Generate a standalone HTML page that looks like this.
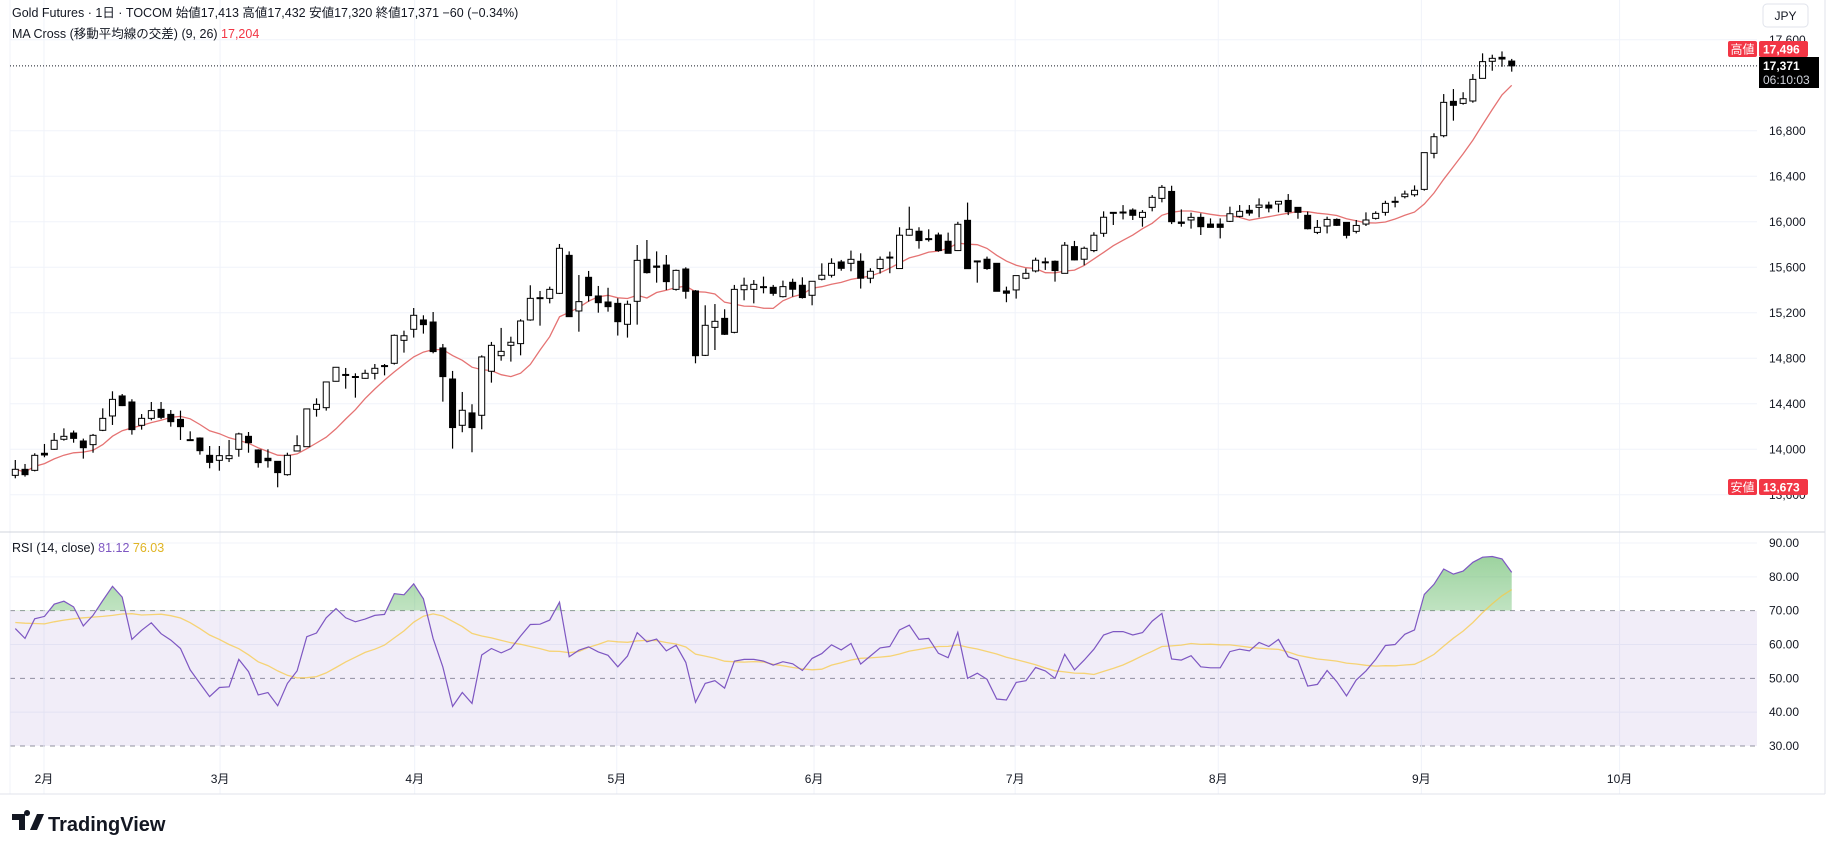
<!DOCTYPE html>
<html><head><meta charset="utf-8">
<style>
html,body{margin:0;padding:0;background:#fff;}
svg{display:block;font-family:"Liberation Sans","Noto Sans CJK JP",sans-serif;}
</style></head>
<body>
<svg id="chart" width="1831" height="845" viewBox="0 0 1831 845" xmlns="http://www.w3.org/2000/svg">
<defs>
<linearGradient id="obGrad" x1="0" y1="0" x2="0" y2="1">
<stop offset="0" stop-color="#4caf50" stop-opacity="0.55"/>
<stop offset="1" stop-color="#4caf50" stop-opacity="0"/>
</linearGradient>
<clipPath id="above70"><rect x="0" y="530" width="1757" height="81"/></clipPath>
</defs>
<g id="grid"></g>
<rect x="10" y="611" width="1747" height="135" fill="#7e57c2" fill-opacity="0.11"/>
<g id="rsiLayer"></g>
<g id="priceLayer"></g>
<g id="axes"></g>
<line x1="0" y1="532" x2="1825" y2="532" stroke="#d1d4dc" stroke-width="1"/>
<line x1="0" y1="794" x2="1825" y2="794" stroke="#e0e3eb"/>
<line x1="1825" y1="0" x2="1825" y2="794" stroke="#e0e3eb"/>
<text x="12" y="17" font-size="12.5" fill="#131722">Gold Futures · 1日 · TOCOM  始値17,413  高値17,432  安値17,320  終値17,371  −60 (−0.34%)</text>
<text x="12" y="38" font-size="12.5" fill="#131722">MA Cross (移動平均線の交差) (9, 26)  <tspan fill="#f23645">17,204</tspan></text>
<text x="12" y="552" font-size="12.5" fill="#131722">RSI (14, close)  <tspan fill="#7e57c2">81.12</tspan>  <tspan fill="#e0b422">76.03</tspan></text>
<rect x="1763" y="4" width="45" height="23" rx="4" fill="#fff" stroke="#e0e3eb"/>
<text x="1785.5" y="20" font-size="12" text-anchor="middle" fill="#131722">JPY</text>
<g>
<path d="M12 814 h13 v16 h-6 v-10 h-7z M27 816 a3 3 0 1 1 0.1 0z M30 830 l7 -16 h7 l-7 16z" fill="#131722"/>
<text x="48" y="831" font-size="20" font-weight="bold" fill="#131722">TradingView</text>
</g>
</svg>
<script>
const opens=[13771,13824,13815,13965,14000,14088,14143,14073,14041,14167,14293,14469,14416,14211,14272,14351,14307,14263,14082,14099,13947,13903,13918,14000,14114,13994,13921,13894,13777,13985,14023,14351,14366,14598,14653,14636,14624,14668,14730,14756,14958,15055,15137,15119,14891,14618,14211,14320,14299,14686,14823,14914,14929,15137,15333,15327,15371,15705,15216,15512,15348,15295,15283,15099,15301,15670,15611,15620,15406,15585,15392,14826,15072,15151,15028,15403,15406,15430,15424,15342,15468,15442,15354,15495,15530,15647,15635,15653,15504,15589,15688,15589,15882,15917,15849,15884,15829,15747,16013,15656,15671,15635,15392,15401,15504,15568,15644,15653,15547,15782,15671,15747,15899,16075,16080,16103,16039,16127,16206,16267,15998,16016,16039,15980,15980,16004,16048,16101,16127,16147,16156,16188,16127,16057,15907,15963,16021,15995,15916,15980,16030,16083,16177,16221,16238,16285,16602,16757,17059,17041,17062,17261,17411,17446,17413];
const highs=[13906,13871,13965,14047,14143,14184,14165,14094,14135,14360,14510,14486,14440,14310,14416,14416,14345,14340,14158,14105,14029,14029,14082,14146,14152,14000,14000,13894,13970,14123,14351,14448,14589,14724,14715,14668,14700,14750,14750,15010,15043,15242,15178,15207,14926,14689,14504,14396,14826,14944,15067,14990,15143,15442,15392,15430,15805,15740,15532,15568,15436,15420,15327,15307,15796,15840,15740,15708,15580,15600,15400,15266,15277,15231,15445,15509,15488,15518,15445,15483,15500,15512,15477,15635,15679,15665,15747,15723,15592,15695,15738,15952,16133,15952,15934,15905,15905,16000,16169,15660,15694,15635,15430,15527,15590,15685,15685,15660,15822,15832,15782,15908,16092,16083,16147,16118,16103,16235,16323,16317,16109,16080,16074,16030,16030,16133,16147,16147,16206,16177,16180,16244,16127,16089,16016,16045,16030,15995,16016,16083,16092,16185,16221,16274,16320,16608,16778,17123,17167,17139,17299,17481,17469,17498,17432];
const lows=[13745,13760,13806,13930,13995,14076,14058,13918,13970,14160,14214,14380,14129,14173,14255,14265,14199,14082,14080,13953,13833,13812,13888,13935,13970,13839,13839,13666,13768,13983,14020,14287,14340,14595,14533,14454,14620,14615,14650,14745,14850,14982,15017,14844,14419,14006,14150,13974,14176,14586,14779,14771,14826,15130,15087,15283,15365,15166,15034,15298,15201,15210,15000,14982,15096,15545,15465,15400,15395,15324,14756,14820,14873,15005,15020,15310,15283,15371,15350,15335,15342,15325,15266,15485,15510,15570,15565,15413,15460,15545,15548,15585,15878,15764,15826,15737,15723,15743,15588,15465,15578,15389,15293,15325,15495,15555,15577,15474,15545,15660,15618,15733,15868,15972,16021,16016,15957,16092,16171,15980,15957,15940,15884,15950,15854,15998,16039,16054,16039,16083,16083,16059,16027,15933,15892,15898,15963,15854,15898,15963,16020,16054,16127,16206,16221,16274,16558,16743,16889,17030,17047,17261,17328,17363,17320];
const closes=[13824,13777,13947,13950,14079,14114,14096,14014,14123,14272,14439,14384,14173,14272,14340,14281,14243,14199,14085,13988,13885,13944,13944,14135,14058,13883,13900,13795,13947,14032,14355,14395,14592,14721,14658,14640,14668,14712,14736,15002,14998,15178,15096,14859,14639,14191,14343,14191,14812,14914,14861,14941,15128,15327,15330,15406,15767,15166,15298,15351,15289,15254,15122,15275,15661,15553,15600,15474,15573,15389,14823,15090,15125,15011,15406,15442,15450,15428,15371,15430,15407,15334,15477,15530,15635,15591,15670,15504,15565,15670,15690,15882,15934,15835,15852,15747,15723,15978,15588,15652,15589,15389,15372,15527,15547,15662,15648,15571,15794,15665,15767,15882,16040,16083,16086,16057,16083,16215,16303,16001,15986,16039,15957,15951,15951,16071,16092,16077,16147,16121,16180,16089,16083,15939,15951,16021,15969,15881,15968,16016,16074,16162,16180,16244,16277,16608,16748,17050,17024,17082,17252,17408,17437,17431,17371];
const rsiValues=[64.7,61.8,67.6,68.3,71.9,72.8,71.1,65.5,68.6,73.0,77.2,74.0,61.5,64.2,66.4,63.2,61.3,58.8,52.5,48.5,44.6,47.3,47.5,55.6,52.0,45.1,45.8,41.9,48.5,52.2,62.3,63.4,67.9,70.6,67.9,66.7,67.5,68.6,68.9,75.0,74.7,77.9,73.5,61.8,53.4,41.7,45.8,42.6,56.9,58.8,57.5,58.8,62.5,65.9,66.0,67.2,72.5,56.4,58.3,59.3,57.8,56.8,53.4,56.6,63.5,60.8,61.6,58.1,59.8,54.7,42.9,48.5,49.3,47.1,55.1,55.6,55.6,55.1,53.9,54.9,54.3,52.3,55.9,57.3,59.9,58.4,60.3,54.2,56.6,59.0,59.4,64.3,65.7,61.5,61.8,57.4,56.1,63.6,50.0,51.5,49.7,43.9,43.6,48.8,49.3,53.2,52.2,50.0,57.1,52.5,55.4,58.6,62.8,63.8,63.8,62.8,63.5,66.9,69.2,55.7,55.4,56.7,53.4,53.1,53.1,57.9,58.6,58.1,60.6,59.4,61.5,56.4,55.4,47.7,48.2,52.3,49.0,44.8,49.5,52.2,55.6,59.7,60.0,63.0,64.3,74.8,77.8,82.3,80.8,81.7,84.3,85.8,86.0,85.3,81.3];
const rsiMaStart=[66.5,66.3,66.2,66.1,66.7,67.2,67.6,67.9,68.1,68.3,68.6,69.0,69.1];
const priceTicks=[13600,14000,14400,14800,15200,15600,16000,16400,16800,17600];
const rsiTicks=[30,40,50,60,70,80,90];
const monthLabels=["2月","3月","4月","5月","6月","7月","8月","9月","10月"];
const monthPos=[2.95,21.07,41.1,61.9,82.2,102.9,123.8,144.7,165.1];

const NS="http://www.w3.org/2000/svg";
function mk(tag,attrs,parent){const e=document.createElementNS(NS,tag);for(const k in attrs)e.setAttribute(k,attrs[k]);parent.appendChild(e);return e;}
const xAt=i=>15.3+9.717*i;
const yP=p=>130.8-(p-16800)*45.5/400;
const yR=v=>543+(90-v)*3.383;
const grid=document.getElementById('grid'),price=document.getElementById('priceLayer'),rsiL=document.getElementById('rsiLayer'),axes=document.getElementById('axes');

// grid
priceTicks.forEach(p=>{const l=mk('line',{x1:10,x2:1757,y1:yP(p),y2:yP(p),stroke:'#f0f3fa'},grid);


const t=mk('text',{x:1769,y:yP(p)+4,'font-size':12,fill:'#131722'},axes);t.textContent=p.toLocaleString('en-US');

});
rsiTicks.forEach(v=>{const dashed=(v===70||v===50||v===30);
const l=mk('line',{x1:10,x2:1757,y1:yR(v),y2:yR(v),stroke:dashed?'#787b86':'#f0f3fa','stroke-dasharray':dashed?'5,5':'none','stroke-opacity':dashed?0.8:1},grid);


const t=mk('text',{x:1769,y:yR(v)+4,'font-size':12,fill:'#131722'},axes);t.textContent=v.toFixed(2);

});
monthLabels.forEach((m,k)=>{const x=xAt(monthPos[k]);
const l=mk('line',{x1:x,x2:x,y1:0,y2:794,stroke:'#f0f3fa'},grid);


const t=mk('text',{x:x,y:783,'font-size':12,fill:'#131722','text-anchor':'middle'},axes);t.textContent=m;

});
const lb=mk('line',{x1:10,x2:10,y1:0,y2:794,stroke:'#f0f3fa'},grid);



// MA9
const ma=closes.map((c,i)=>{const s=closes.slice(Math.max(0,i-8),i+1);return s.reduce((a,b)=>a+b,0)/s.length;});
const maPath=mk('path',{d:ma.map((v,i)=>(i?'L':'M')+xAt(i).toFixed(1)+' '+yP(v).toFixed(1)).join(''),fill:'none',stroke:'#e57373',"stroke-width":1.3},price);



// candles
closes.forEach((c,i)=>{const o=opens[i],x=xAt(i),up=c>=o;
const g=mk('g',{},price);


mk('line',{x1:x,x2:x,y1:yP(highs[i]),y2:yP(lows[i]),stroke:'#000','stroke-width':1.2},g);
const top=yP(Math.max(o,c)),bot=yP(Math.min(o,c));
mk('rect',{x:x-3,y:top,width:6,height:Math.max(1,bot-top),fill:up?'#fff':'#000',stroke:'#000','stroke-width':1},g);});

// price lines & badges
const yl=yP(closes[closes.length-1]);
const pl=mk('line',{x1:10,x2:1757,y1:yl,y2:yl,stroke:'#131722','stroke-dasharray':'1,2'},price);


function badge(label,val,y,name){const g=mk('g',{},axes);


mk('rect',{x:1728,y:y-8,width:29,height:16,fill:'#f23645',rx:2},g);
const t1=mk('text',{x:1742.5,y:y+4.5,'font-size':12,fill:'#fff','text-anchor':'middle'},g);t1.textContent=label;
mk('rect',{x:1759,y:y-8,width:49,height:16,fill:'#f23645',rx:2},g);
const t2=mk('text',{x:1763,y:y+4.5,'font-size':12,fill:'#fff','font-weight':'bold'},g);t2.textContent=val;}
badge('高値','17,496',49,'high-badge');
badge('安値','13,673',487,'low-badge');
const cb=mk('g',{},axes);


mk('rect',{x:1759,y:57,width:60,height:31,fill:'#000'},cb);
const c1=mk('text',{x:1763,y:70,'font-size':12,fill:'#fff','font-weight':'bold'},cb);c1.textContent='17,371';
const c2=mk('text',{x:1763,y:84,'font-size':12,fill:'#d1d4dc'},cb);c2.textContent='06:10:03';

// RSI
const rsiMa=rsiValues.map((v,i)=>{if(i<13)return rsiMaStart[i];let s=0;for(let k=i-13;k<=i;k++)s+=rsiValues[k];return s/14;});
const rd=rsiValues.map((v,i)=>(i?'L':'M')+xAt(i).toFixed(1)+' '+yR(v).toFixed(1)).join('');
const fill=mk('path',{d:rd+'L'+xAt(rsiValues.length-1)+' '+yR(70)+'L'+xAt(0)+' '+yR(70)+'Z',fill:'url(#obGrad)','clip-path':'url(#above70)'},rsiL);


const rm=mk('path',{d:rsiMa.map((v,i)=>(i?'L':'M')+xAt(i).toFixed(1)+' '+yR(v).toFixed(1)).join(''),fill:'none',stroke:'#f7c948','stroke-opacity':0.75,'stroke-width':1.3},rsiL);


const rl=mk('path',{d:rd,fill:'none',stroke:'#7e57c2','stroke-width':1.2},rsiL);


</script>
</body></html>
